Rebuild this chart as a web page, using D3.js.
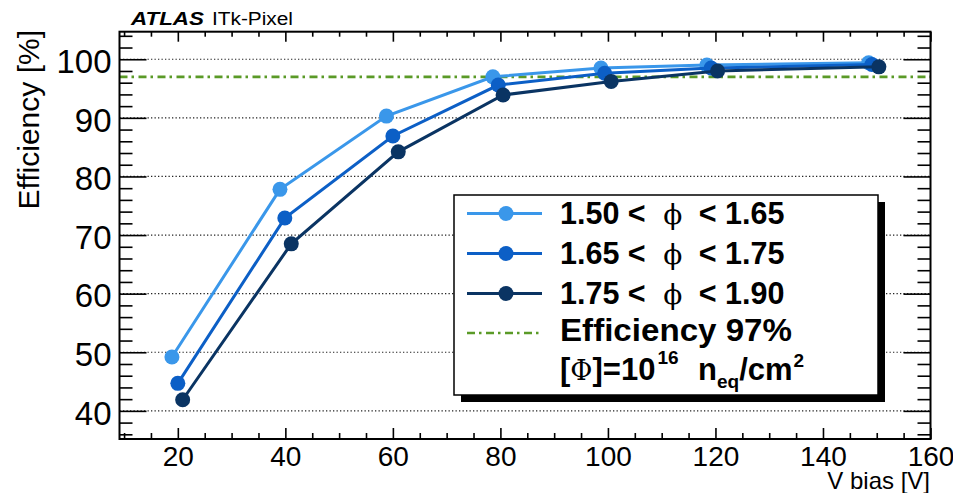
<!DOCTYPE html>
<html><head><meta charset="utf-8">
<script src="https://cdn.jsdelivr.net/npm/d3@7"></script>
<style>
body{margin:0;background:#fff}
svg{display:block}
text{font-family:"Liberation Sans",Arial,Helvetica,sans-serif;fill:#000}
</style>
</head><body>
<svg id="chart" width="953" height="493"></svg>
<script>
// ---------- data ----------
const seriesLabels = ["1.50 < ", "1.65 < ", "1.75 < "];
const seriesLabelEnds = [" < 1.65", " < 1.75", " < 1.90"];
const seriesColors = ["#3a97ea", "#0c5fc6", "#0a3463"];
const vbiasA = [18.9, 39.0, 58.8, 78.6, 98.7, 118.4, 148.5];
const effA   = [49.2, 77.8, 90.3, 97.0, 98.5, 99.0, 99.4];
const vbiasB = [20.0, 39.9, 60.0, 79.6, 99.4, 119.2, 149.1];
const effB   = [44.7, 72.9, 86.9, 95.6, 97.6, 98.5, 99.1];
const vbiasC = [20.9, 41.1, 61.0, 80.5, 100.6, 120.4, 150.4];
const effC   = [41.9, 68.5, 84.2, 93.9, 96.2, 98.0, 98.7];
const threshold = 97;
const xMajorTicks = [20, 40, 60, 80, 100, 120, 140, 160];
const xMinorTicks = [10, 15, 25, 30, 35, 45, 50, 55, 65, 70, 75, 85, 90, 95, 105, 110, 115, 125, 130, 135, 145, 150, 155];
const yMajorTicks = [40, 50, 60, 70, 80, 90, 100];
const yMinorTicks = [36, 38, 42, 44, 46, 48, 52, 54, 56, 58, 62, 64, 66, 68, 72, 74, 76, 78, 82, 84, 86, 88, 92, 94, 96, 98, 102, 104];

const series = [
  {x: vbiasA, y: effA},
  {x: vbiasB, y: effB},
  {x: vbiasC, y: effC}
];

// ---------- layout ----------
const svg = d3.select("#chart");
const L = 119.5, R = 930.5, T = 31.7, B = 439;
const x = d3.scaleLinear().domain([9.15, 160]).range([L, R]);
const y = d3.scaleLinear().domain([35.2, 104.7]).range([B, T]);

// grid (dotted)
svg.append("g").selectAll("line").data(yMajorTicks).join("line")
  .attr("x1", L).attr("x2", R)
  .attr("y1", d => y(d)).attr("y2", d => y(d))
  .attr("stroke", "#222").attr("stroke-width", 1.2)
  .attr("stroke-dasharray", "1.3,2.2");

// 97% line
svg.append("line")
  .attr("x1", L).attr("x2", R)
  .attr("y1", y(threshold)).attr("y2", y(threshold))
  .attr("stroke", "#5a9a27").attr("stroke-width", 2.6)
  .attr("stroke-dasharray", "8,4,2.5,4.5");

// axes
function styleAxis(g) {
  g.select(".domain").remove();
  g.selectAll(".tick line").attr("stroke", "#000").attr("stroke-width", 1.6);
}
// bottom
svg.append("g").attr("transform", `translate(0,${B})`)
  .call(d3.axisBottom(x).tickValues(xMajorTicks).tickSizeInner(-11).tickSizeOuter(0).tickPadding(7).tickFormat(d3.format("d")))
  .call(styleAxis)
  .call(g => g.selectAll("text").attr("font-size", 28).attr("font-family", "Liberation Sans, Arial, sans-serif").attr("fill", "#000"));
svg.append("g").attr("transform", `translate(0,${B})`)
  .call(d3.axisBottom(x).tickValues(xMinorTicks).tickSizeInner(-6).tickSizeOuter(0).tickFormat(""))
  .call(styleAxis);
// top
svg.append("g").attr("transform", `translate(0,${T})`)
  .call(d3.axisBottom(x).tickValues(xMajorTicks).tickSizeInner(10).tickSizeOuter(0).tickFormat(""))
  .call(styleAxis);
svg.append("g").attr("transform", `translate(0,${T})`)
  .call(d3.axisBottom(x).tickValues(xMinorTicks).tickSizeInner(5).tickSizeOuter(0).tickFormat(""))
  .call(styleAxis);
// left
svg.append("g").attr("transform", `translate(${L},0)`)
  .call(d3.axisLeft(y).tickValues(yMajorTicks).tickSizeInner(-27).tickSizeOuter(0).tickPadding(8).tickFormat(d3.format("d")))
  .call(styleAxis)
  .call(g => g.selectAll("text").attr("font-size", 33).attr("dy", "0.4em").attr("font-family", "Liberation Sans, Arial, sans-serif").attr("fill", "#000"));
svg.append("g").attr("transform", `translate(${L},0)`)
  .call(d3.axisLeft(y).tickValues(yMinorTicks).tickSizeInner(-13).tickSizeOuter(0).tickFormat(""))
  .call(styleAxis);
// right
svg.append("g").attr("transform", `translate(${R},0)`)
  .call(d3.axisLeft(y).tickValues(yMajorTicks).tickSizeInner(27).tickSizeOuter(0).tickFormat(""))
  .call(styleAxis);
svg.append("g").attr("transform", `translate(${R},0)`)
  .call(d3.axisLeft(y).tickValues(yMinorTicks).tickSizeInner(13).tickSizeOuter(0).tickFormat(""))
  .call(styleAxis);

// frame
svg.append("rect").attr("x", L).attr("y", T).attr("width", R - L).attr("height", B - T)
  .attr("fill", "none").attr("stroke", "#000").attr("stroke-width", 2);

// series
const line = d3.line().x(d => x(d[0])).y(d => y(d[1]));
series.forEach((s, i) => {
  const pts = s.x.map((v, k) => [v, s.y[k]]);
  svg.append("path").datum(pts).attr("d", line)
    .attr("fill", "none").attr("stroke", seriesColors[i]).attr("stroke-width", 3);
  svg.append("g").selectAll("circle").data(pts).join("circle")
    .attr("cx", d => x(d[0])).attr("cy", d => y(d[1])).attr("r", 7.5)
    .attr("fill", seriesColors[i]);
});

// legend
const lg = svg.append("g");
lg.append("rect").attr("x", 461).attr("y", 202).attr("width", 424).attr("height", 200).attr("fill", "#000");
lg.append("rect").attr("x", 454).attr("y", 195).attr("width", 424).attr("height", 200)
  .attr("fill", "#fff").attr("stroke", "#000").attr("stroke-width", 1.5);
const rowY = [213.5, 253.5, 293.5];
const baseY = [224, 264, 304];
seriesLabels.forEach((lab, i) => {
  lg.append("line").attr("x1", 467).attr("x2", 542).attr("y1", rowY[i]).attr("y2", rowY[i])
    .attr("stroke", seriesColors[i]).attr("stroke-width", 3);
  lg.append("circle").attr("cx", 506).attr("cy", rowY[i]).attr("r", 7.5).attr("fill", seriesColors[i]);
  const t = lg.append("text").attr("x", 560).attr("y", baseY[i]).attr("font-size", 30.5).attr("font-weight", "bold")
    .attr("xml:space", "preserve");
  t.append("tspan").text(lab);
  t.append("tspan").attr("dx", 9).attr("font-family", "DejaVu Serif").attr("font-weight", "normal").attr("font-size", 28).text("ϕ");
  t.append("tspan").attr("dx", 8).text(seriesLabelEnds[i]);
});
lg.append("line").attr("x1", 467).attr("x2", 542).attr("y1", 333).attr("y2", 333)
  .attr("stroke", "#5a9a27").attr("stroke-width", 2.6).attr("stroke-dasharray", "8,4,2.5,4.5");
lg.append("text").attr("x", 560).attr("y", 341).attr("font-size", 31).attr("font-weight", "bold")
  .attr("textLength", 232).attr("lengthAdjust", "spacingAndGlyphs").text("Efficiency 97%");
const t5 = lg.append("text").attr("x", 560).attr("y", 380).attr("font-size", 31).attr("font-weight", "bold");
t5.append("tspan").text("[");
t5.append("tspan").attr("font-family", "DejaVu Serif").attr("font-weight", "normal").attr("font-size", 27).text("Φ");
t5.append("tspan").text("]=10");
t5.append("tspan").attr("dx", 2).attr("dy", -16).attr("font-size", 19).text("16");
t5.append("tspan").attr("x", 698).attr("dy", 16).text("n");
t5.append("tspan").attr("dy", 8).attr("font-size", 19).text("eq");
t5.append("tspan").attr("dy", -8).text("/cm");
t5.append("tspan").attr("dx", 1).attr("dy", -13).attr("font-size", 19).text("2");

// axis titles
svg.append("text").attr("transform", "translate(38.5,30) rotate(-90)").attr("text-anchor", "end")
  .attr("font-size", 30).text("Efficiency [%]");
svg.append("text").attr("x", 930).attr("y", 489).attr("text-anchor", "end")
  .attr("font-size", 24).text("V bias [V]");

// header
svg.append("text").attr("x", 131).attr("y", 25).attr("font-size", 18).attr("font-weight", "bold").attr("font-style", "italic")
  .attr("textLength", 73).attr("lengthAdjust", "spacingAndGlyphs").text("ATLAS");
svg.append("text").attr("x", 212).attr("y", 25).attr("font-size", 18)
  .attr("textLength", 81).attr("lengthAdjust", "spacingAndGlyphs").text("ITk-Pixel");
</script>
</body></html>
